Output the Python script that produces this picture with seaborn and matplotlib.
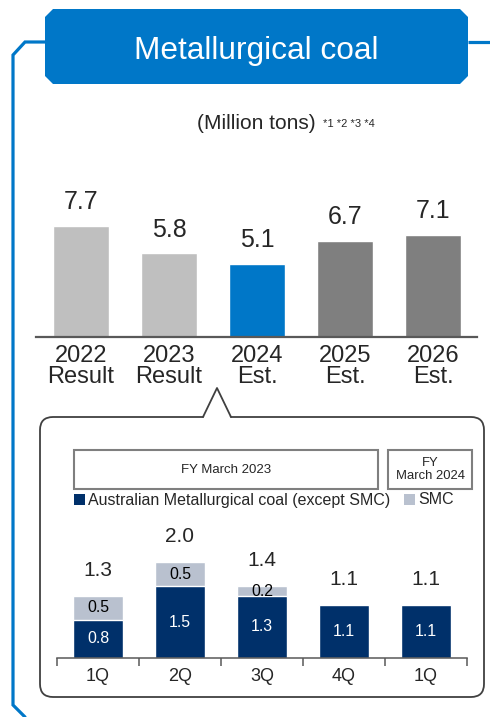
import matplotlib
matplotlib.use("Agg")
import matplotlib.pyplot as plt
import seaborn as sns
from matplotlib.patches import Polygon, Rectangle, FancyBboxPatch

sns.set_theme(style="white")
plt.rcParams['font.family'] = ['Liberation Sans', 'DejaVu Sans']

# Annual sales volume (million tons)
years = ["2022\nResult", "2023\nResult", "2024\nEst.", "2025\nEst.", "2026\nEst."]
annual_volume = [7.7, 5.8, 5.1, 6.7, 7.1]
annual_colors = ["#BFBFBF", "#BFBFBF", "#0077C8", "#7F7F7F", "#7F7F7F"]

# Quarterly breakdown (FY March 2023 1Q-4Q, FY March 2024 1Q)
quarter_keys = ["FY23 1Q", "FY23 2Q", "FY23 3Q", "FY23 4Q", "FY24 1Q"]
quarter_labels = ["1Q", "2Q", "3Q", "4Q", "1Q"]
australian = [0.8, 1.5, 1.3, 1.1, 1.1]
smc = [0.5, 0.5, 0.2, 0.0, 0.0]
quarter_total = [1.3, 2.0, 1.4, 1.1, 1.1]

BLUE = "#0077C8"
NAVY = "#00306A"
SMC_GRAY = "#B9C1CF"
W, H = 490, 717

fig = plt.figure(figsize=(W / 100, H / 100), dpi=100)
fig.patch.set_facecolor("white")

# ---- decorations drawn in pixel space ----
bg = fig.add_axes([0, 0, 1, 1])
bg.set_xlim(0, W)
bg.set_ylim(H, 0)
bg.axis("off")

# blue frame line
bg.plot([468, 490], [42, 42], color=BLUE, lw=2.3, solid_capstyle="butt")
bg.plot([45, 25, 13, 13, 25], [42, 42, 55, 705, 717], color=BLUE, lw=2.3,
        solid_joinstyle="miter")

# title banner with chamfered corners
c = 8
x0, x1, y0, y1 = 45, 468, 9, 84
bg.add_patch(Polygon([(x0 + c, y0), (x1 - c, y0), (x1, y0 + c), (x1, y1 - c),
                      (x1 - c, y1), (x0 + c, y1), (x0, y1 - c), (x0, y0 + c)],
                     closed=True, fc=BLUE, ec="none"))
bg.text(256, 59, "Metallurgical coal", color="white", fontsize=22.8,
        ha="center", va="baseline")

bg.text(197, 129, "(Million tons)", fontsize=15, ha="left", va="baseline")
bg.text(323, 127, "*1 *2 *3 *4", fontsize=8, ha="left", va="baseline")

# callout box with pointer
EDGE = "#404040"
bg.add_patch(FancyBboxPatch((40, 417), 444, 280,
                            boxstyle="round,pad=0,rounding_size=13",
                            fc="white", ec=EDGE, lw=1.3))
bg.add_patch(Polygon([(203, 419), (217, 388), (231, 419)], closed=True,
                     fc="white", ec="none", zorder=3))
bg.plot([203, 217, 231], [417, 388, 417], color=EDGE, lw=1.3, zorder=4)

# period header boxes
bg.add_patch(Rectangle((74, 450), 304, 39, fc="white", ec="#7F7F7F", lw=1.5))
bg.add_patch(Rectangle((388, 450), 84, 39, fc="white", ec="#7F7F7F", lw=1.5))
bg.text(226, 470, "FY March 2023", fontsize=9.5, ha="center", va="center")
bg.text(430, 469.5, "FY\nMarch 2024", fontsize=9.4, ha="center", va="center",
        linespacing=1.2)

# legend
bg.add_patch(Rectangle((74, 494), 11, 11, fc=NAVY, ec="none"))
bg.text(88, 500, "Australian Metallurgical coal (except SMC)", fontsize=11.5,
        ha="left", va="center")
bg.add_patch(Rectangle((404, 494), 11, 11, fc=SMC_GRAY, ec="none"))
bg.text(418, 500, "SMC", fontsize=11.5, ha="left", va="center")

# ---- annual bar chart ----
px_per_unit_top = 14.4
top_h = 160
ax1 = fig.add_axes([36 / W, (H - 337) / H, 441 / W, top_h / H])
ax1.patch.set_alpha(0)
sns.barplot(x=years, y=annual_volume, hue=years, palette=annual_colors,
            order=years, hue_order=years, legend=False, saturation=1,
            width=0.636, ax=ax1)
ax1.set_xlim(-0.511, 4.5)
ax1.set_ylim(0, top_h / px_per_unit_top)
for i, v in enumerate(annual_volume):
    ax1.annotate(f"{v:.1f}", (i, v), xytext=(0, 12), textcoords="offset points",
                 ha="center", va="baseline", fontsize=18)
ax1.set_xlabel("")
ax1.set_ylabel("")
ax1.set_yticks([])
ax1.tick_params(axis="x", length=0, pad=6, labelsize=17)
for lab in ax1.get_xticklabels():
    lab.set_linespacing(0.95)
for s in ["top", "left", "right"]:
    ax1.spines[s].set_visible(False)
ax1.spines["bottom"].set_color("#595959")
ax1.spines["bottom"].set_linewidth(1.6)

# ---- quarterly stacked bar chart ----
px_per_unit_bot = 47.8
bot_h = 130
ax2 = fig.add_axes([57 / W, (H - 658) / H, 410 / W, bot_h / H])
ax2.patch.set_alpha(0)
stack_top = [a + s for a, s in zip(australian, smc)]
sns.barplot(x=quarter_keys, y=stack_top, order=quarter_keys, color=SMC_GRAY,
            saturation=1, width=0.62, ax=ax2)
sns.barplot(x=quarter_keys, y=australian, order=quarter_keys, color=NAVY,
            saturation=1, width=0.62, ax=ax2)
ax2.set_xlim(-0.5, 4.5)
ax2.set_ylim(0, bot_h / px_per_unit_bot)
for i, (a, s, t) in enumerate(zip(australian, smc, quarter_total)):
    ax2.text(i, a / 2, f"{a:.1f}", color="white", fontsize=11.4,
             ha="center", va="center")
    if s > 0:
        ax2.text(i, a + s / 2, f"{s:.1f}", color="black", fontsize=11.4,
                 ha="center", va="center")
    ax2.annotate(f"{t:.1f}", (i, a + s), xytext=(0, 14.5),
                 textcoords="offset points", ha="center", va="baseline",
                 fontsize=15)
ax2.set_xticks(range(len(quarter_labels)))
ax2.set_xticklabels(quarter_labels)
ax2.set_xticks([i - 0.5 for i in range(len(quarter_labels) + 1)], minor=True)
ax2.tick_params(axis="x", which="major", length=0, pad=7, labelsize=13)
ax2.tick_params(axis="x", which="minor", bottom=True, length=5.5, width=1.1,
                color="#595959", direction="out")
ax2.set_xlabel("")
ax2.set_ylabel("")
ax2.set_yticks([])
for s in ["top", "left", "right"]:
    ax2.spines[s].set_visible(False)
ax2.spines["bottom"].set_color("#595959")
ax2.spines["bottom"].set_linewidth(1.1)

fig.savefig("out.png", dpi=100, facecolor="white")
